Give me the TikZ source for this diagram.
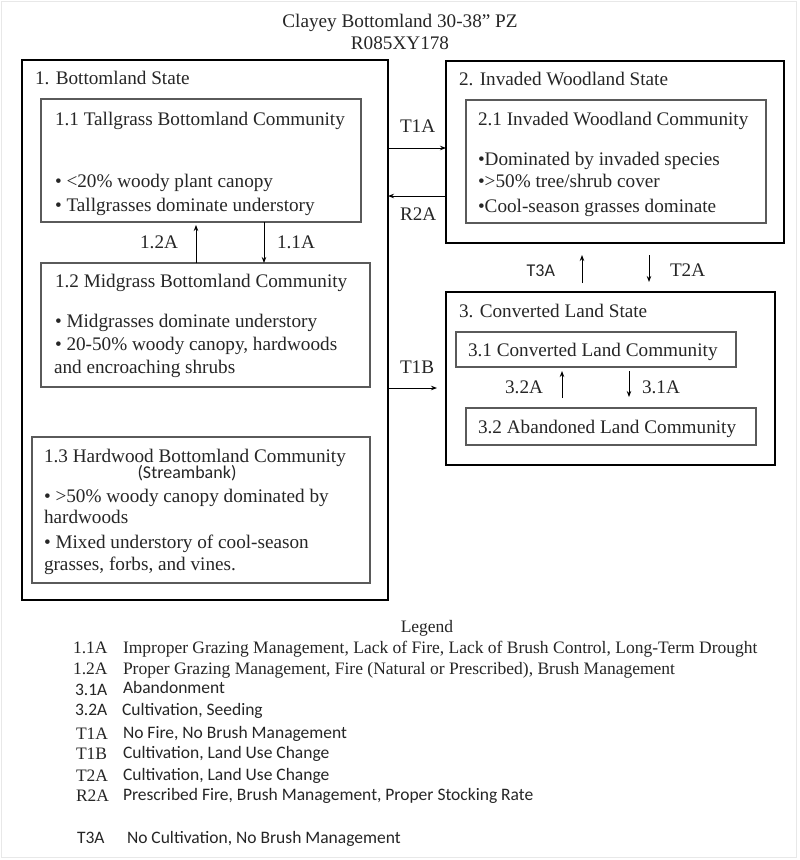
\documentclass[tikz,border=0pt]{standalone}
\usepackage{fontspec}
\setmainfont{Liberation Serif}
\newfontfamily\calfont{Carlito}
\usetikzlibrary{arrows.meta}
\definecolor{txt}{HTML}{262626}
\definecolor{innerc}{HTML}{5A5A5A}
\tikzset{
  outerbox/.style={rectangle, draw=black, line width=2.2pt, inner sep=0pt, outer sep=0pt},
  innerbox/.style={rectangle, draw=innerc, line width=1.6pt, inner sep=0pt, outer sep=0pt},
  lbl/.style={anchor=base west, inner sep=0pt, outer sep=0pt, text=txt, font=\fontsize{19.2}{23}\selectfont},
  lble/.style={lbl, anchor=base east},
  lblc/.style={lbl, anchor=base},
  sanslbl/.style={lbl, font=\fontsize{18}{22}\selectfont\calfont},
  leg/.style={lbl, font=\fontsize{17.5}{21}\selectfont},
  legsans/.style={lbl, font=\fontsize{17.5}{21}\selectfont\calfont},
  arr/.style={-{Stealth[length=6pt,width=4.5pt]}, line width=0.9pt, draw=black},
}
\begin{document}
\begin{tikzpicture}[x=1pt,y=-1pt]
\useasboundingbox (0,0) rectangle (800,860);
\fill[white] (0,0) rectangle (800,860);
\draw[gray!18, line width=1pt] (1,1) rectangle (796,857);

% title
\node[lblc] (title1) at (400,27) {Clayey Bottomland 30-38” PZ};
\node[lblc] (title2) at (400,49) {R085XY178};

% state boxes
\node[outerbox, minimum width=366pt, minimum height=540pt] (s1) at (205,330) {};
\node[outerbox, minimum width=338pt, minimum height=182pt] (s2) at (615,152) {};
\node[outerbox, minimum width=329pt, minimum height=173pt] (s3) at (610.5,378.5) {};

% community boxes
\node[innerbox, minimum width=320pt, minimum height=123pt] (b11) at (201,160.5) {};
\node[innerbox, minimum width=329pt, minimum height=124pt] (b12) at (205.5,325) {};
\node[innerbox, minimum width=338pt, minimum height=146pt] (b13) at (201,510) {};
\node[innerbox, minimum width=300pt, minimum height=123pt] (b21) at (616,161.5) {};
\node[innerbox, minimum width=280pt, minimum height=35pt] (b31) at (596,349.5) {};
\node[innerbox, minimum width=290pt, minimum height=37pt] (b32) at (611,426.5) {};

% state 1 texts
\node[lbl] (s1t) at (35,84) {1. Bottomland State};
\node[lbl] (b11t) at (55,125) {1.1 Tallgrass Bottomland Community};
\node[lbl] (b11a) at (55,187) {• <20\% woody plant canopy};
\node[lbl] (b11b) at (55,211) {• Tallgrasses dominate understory};
\node[lble] (l12a) at (178,248) {1.2A};
\node[lbl] (l11a) at (277,248) {1.1A};
\node[lbl] (b12t) at (55,287) {1.2 Midgrass Bottomland Community};
\node[lbl] (b12a) at (55,327) {• Midgrasses dominate understory};
\node[lbl] (b12b) at (55,350) {• 20-50\% woody canopy, hardwoods};
\node[lbl] (b12c) at (54,373) {and encroaching shrubs};
\node[lbl] (b13t) at (44,462) {1.3 Hardwood Bottomland Community};
\node[sanslbl, anchor=base] (b13s) at (187,478) {(Streambank)};
\node[lbl] (b13a) at (44,502) {• >50\% woody canopy dominated by};
\node[lbl] (b13b) at (44,523) {hardwoods};
\node[lbl] (b13c) at (44,548) {• Mixed understory of cool-season};
\node[lbl] (b13d) at (44,570) {grasses, forbs, and vines.};

% state 2 texts
\node[lbl] (s2t) at (459,85) {2. Invaded Woodland State};
\node[lbl] (b21t) at (478,125) {2.1 Invaded Woodland Community};
\node[lbl] (b21a) at (478,165) {•Dominated by invaded species};
\node[lbl] (b21b) at (478,187) {•>50\% tree/shrub cover};
\node[lbl] (b21c) at (478,212) {•Cool-season grasses dominate};

% state 3 texts
\node[lbl] (s3t) at (459,317) {3. Converted Land State};
\node[lbl] (b31t) at (468,356) {3.1 Converted Land Community};
\node[lble] (l32a) at (543,393) {3.2A};
\node[lbl] (l31a) at (642,393) {3.1A};
\node[lbl] (b32t) at (478,433) {3.2 Abandoned Land Community};

% transition labels
\node[lbl] (lt1a) at (400,132) {T1A};
\node[lbl] (lr2a) at (400,220) {R2A};
\node[lbl] (lt1b) at (400,373) {T1B};
\node[sanslbl, anchor=base east] (lt3a) at (555,276) {T3A};
\node[lbl] (lt2a) at (670,276) {T2A};

% connector coordinates
\coordinate (yT1A) at (0,148);
\coordinate (yR2A) at (0,196);
\coordinate (yT1B) at (0,388);
\coordinate (x12) at (196,0);
\coordinate (x11) at (264,0);
\coordinate (xT3) at (582,0);
\coordinate (xT2) at (649,0);
\coordinate (x32) at (562,0);
\coordinate (x31) at (629,0);

% connectors
\draw[arr] (s1.east |- yT1A) -- (s2.west |- yT1A);
\draw[arr] (s2.west |- yR2A) -- (s1.east |- yR2A);
\draw[arr, shorten >=9pt] (s1.east |- yT1B) -- (s3.west |- yT1B);
\draw[arr, shorten >=3pt] (b12.north -| x12) -- (b11.south -| x12);
\draw[arr] (b11.south -| x11) -- (b12.north -| x11);
\draw[arr, shorten <=9pt, shorten >=12pt] (s3.north -| xT3) -- (s2.south -| xT3);
\draw[arr, shorten <=12pt, shorten >=10pt] (s2.south -| xT2) -- (s3.north -| xT2);
\draw[arr, shorten <=10pt, shorten >=4pt] (b32.north -| x32) -- (b31.south -| x32);
\draw[arr, shorten <=4pt, shorten >=11pt] (b31.south -| x31) -- (b32.north -| x31);

% legend
\node[leg, anchor=base] (legt) at (427,632) {Legend};
\node[leg] (k1) at (73,653) {1.1A};
\node[leg] (v1) at (123,653) {Improper Grazing Management, Lack of Fire, Lack of Brush Control, Long-Term Drought};
\node[leg] (k2) at (73,674) {1.2A};
\node[leg] (v2) at (123,674) {Proper Grazing Management, Fire (Natural or Prescribed), Brush Management};
\node[legsans] (k3) at (75,695) {3.1A};
\node[legsans] (v3) at (123,693) {Abandonment};
\node[legsans] (k4) at (75,715) {3.2A};
\node[legsans] (v4) at (122,715) {Cultivation, Seeding};
\node[leg] (k5) at (76,739) {T1A};
\node[legsans] (v5) at (123,738) {No Fire, No Brush Management};
\node[leg] (k6) at (76,759) {T1B};
\node[legsans] (v6) at (123,758) {Cultivation, Land Use Change};
\node[leg] (k7) at (76,781) {T2A};
\node[legsans] (v7) at (123,780) {Cultivation, Land Use Change};
\node[leg] (k8) at (76,801) {R2A};
\node[legsans] (v8) at (123,800) {Prescribed Fire, Brush Management, Proper Stocking Rate};
\node[legsans] (k9) at (77,843) {T3A};
\node[legsans] (v9) at (127,843) {No Cultivation, No Brush Management};
\end{tikzpicture}
\end{document}
